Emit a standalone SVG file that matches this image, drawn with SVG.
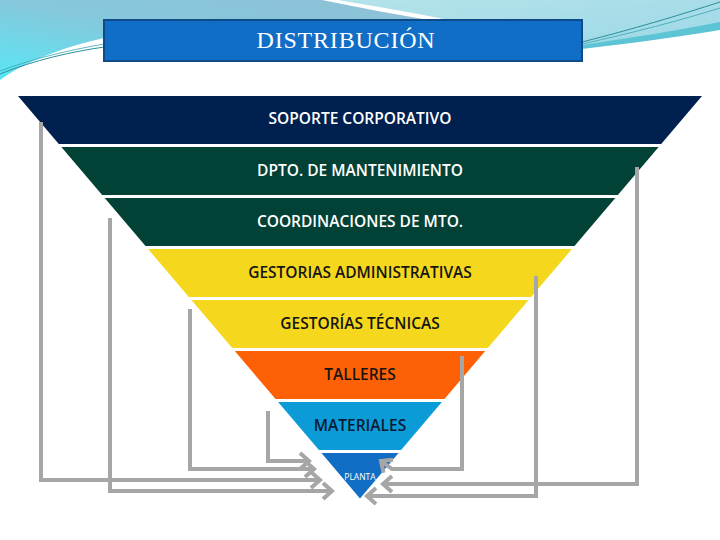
<svg xmlns="http://www.w3.org/2000/svg" width="720" height="540" viewBox="0 0 720 540">
  <defs>
    <linearGradient id="gLeft" x1="1" y1="0" x2="0" y2="1">
      <stop offset="0" stop-color="#8fbfd6"/>
      <stop offset="0.5" stop-color="#86c8dc"/>
      <stop offset="1" stop-color="#58e6f4"/>
    </linearGradient>
    <linearGradient id="gRight" x1="0" y1="0" x2="1" y2="1">
      <stop offset="0" stop-color="#b4e3ea"/>
      <stop offset="1" stop-color="#9cd8e6"/>
    </linearGradient>
    <marker id="arr" markerUnits="userSpaceOnUse" markerWidth="24" markerHeight="24" viewBox="-12 -12 24 24" refX="0" refY="0" orient="auto">
      <polyline points="-9,-8 0,0 -9,8" fill="none" stroke="#a6a6a6" stroke-width="4"/>
    </marker>
  </defs>
  <style>
    .band-text { font-family: "Open Sans", "Liberation Sans", sans-serif; font-weight: 600; font-size: 15.5px; text-anchor: middle; }
    .light { fill: #ffffff; }
    .dark { fill: #141414; }
    .conn { fill: none; stroke: #a6a6a6; stroke-width: 4; marker-end: url(#arr); }
  </style>
  <rect width="720" height="540" fill="#ffffff"/>
  <g id="background">
    <path d="M0,0 H322 C360,8 400,15 440,22 L440,40 L104,38 C60,48 25,62 0,80 Z" fill="url(#gLeft)"/>
    <path d="M338,0 H720 V26 C670,34 620,42 582,47 L450,47 L448,20 C410,12 372,6 338,0 Z" fill="url(#gRight)"/>
    <path d="M582,45 C630,38 680,30 720,22 V30 C670,38 625,44 582,49 Z" fill="#5cc4d4"/>
    <path d="M0,74 C35,60 70,52 104,47" fill="none" stroke="#2a8f9c" stroke-width="1"/>
    <path d="M0,71 C35,58 70,50 104,44" fill="none" stroke="#3aa6b2" stroke-width="0.8"/>
    <path d="M582,42 C630,30 680,15 720,2" fill="none" stroke="#2a8f9c" stroke-width="1"/>
    <path d="M582,44 C632,33 682,20 720,8" fill="none" stroke="#3aa6b2" stroke-width="0.8"/>
  </g>
  <g id="title">
    <rect x="104" y="20" width="478" height="41" fill="#106ec6" stroke="#0e4b88" stroke-width="2"/>
    <text x="346" y="48" font-family="Liberation Serif, serif" font-size="24" letter-spacing="0.8" fill="#ffffff" text-anchor="middle">DISTRIBUCIÓN</text>
  </g>
  <g id="soporte">
    <polygon points="18,96 702,96 661.2,144 58.8,144" fill="#00214f"/>
    <text class="band-text light" x="360" y="124">SOPORTE CORPORATIVO</text>
  </g>
  <g id="dpto">
    <polygon points="61.35,147 658.65,147 617.85,195 102.15,195" fill="#024236"/>
    <text class="band-text light" x="360" y="176">DPTO. DE MANTENIMIENTO</text>
  </g>
  <g id="coordinaciones">
    <polygon points="104.7,198 615.3,198 574.5,246 145.5,246" fill="#024236"/>
    <text class="band-text light" x="360" y="227">COORDINACIONES DE MTO.</text>
  </g>
  <g id="gestorias-admin">
    <polygon points="148.05,249 571.95,249 531.15,297 188.85,297" fill="#f5d81e"/>
    <text class="band-text dark" x="360" y="278">GESTORIAS ADMINISTRATIVAS</text>
  </g>
  <g id="gestorias-tec">
    <polygon points="191.4,300 528.6,300 487.8,348 232.2,348" fill="#f5d81e"/>
    <text class="band-text dark" x="360" y="329">GESTORÍAS TÉCNICAS</text>
  </g>
  <g id="talleres">
    <polygon points="234.75,351 485.25,351 444.45,399 275.55,399" fill="#fe6105"/>
    <text class="band-text dark" x="360" y="380">TALLERES</text>
  </g>
  <g id="materiales">
    <polygon points="278.1,402 441.9,402 401.1,450 318.9,450" fill="#0b9cd8"/>
    <text class="band-text" fill="#0a1a33" x="360" y="431">MATERIALES</text>
  </g>
  <g id="planta">
    <polygon points="321.45,453 398.55,453 360,498.4" fill="#126ec4"/>
    <text x="360" y="480" font-family="Open Sans, Liberation Sans, sans-serif" font-size="8.5" fill="#ffffff" text-anchor="middle">PLANTA</text>
  </g>
  <g id="connectors">
    <path class="conn" d="M41,122 V480 H320"/>
    <path class="conn" d="M110,218 V491 H332"/>
    <path class="conn" d="M190,309 V469 H314"/>
    <path class="conn" d="M268,411 V461 H309"/>
    <path class="conn" d="M637,167 V484 H383"/>
    <path class="conn" d="M536,276 V496 H367"/>
    <path class="conn" d="M462,356 V469 H392 L381,461"/>
  </g>
</svg>
